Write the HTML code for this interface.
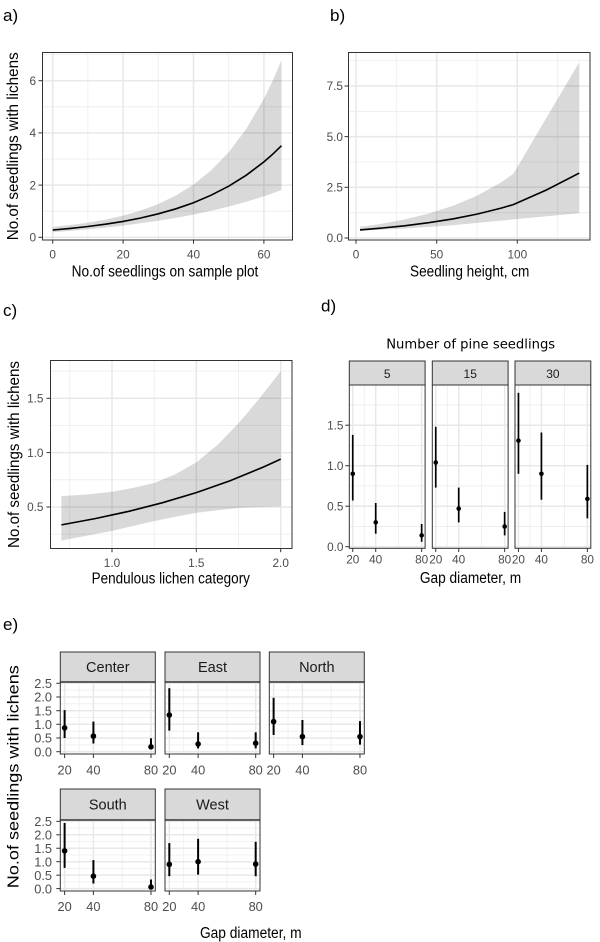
<!DOCTYPE html>
<html><head><meta charset="utf-8"><style>
html,body{margin:0;padding:0;background:#fff;}
svg{display:block;}
text{font-family:"Liberation Sans",Arial,sans-serif;}
.tk{font-size:11.8px;fill:#4d4d4d;}
.tke{font-size:12.8px;fill:#4d4d4d;}
.ttl{font-size:15.5px;fill:#000;}
.lab{font-size:17px;fill:#000;}
.gM{stroke:#e8e8e8;stroke-width:1.5;}
.gm{stroke:#ececec;stroke-width:0.8;}
.tick{stroke:#333;stroke-width:1;}
</style></head><body>
<svg width="600" height="942" viewBox="0 0 600 942" xmlns="http://www.w3.org/2000/svg">
<rect width="600" height="942" fill="#fff"/>

<!-- ===== Panel a ===== -->
<text class="lab" x="3" y="21">a)</text>
<rect x="42.5" y="52.5" width="250" height="187.5" fill="#fff"/>
<g class="gm">
<line x1="87.9" y1="52.5" x2="87.9" y2="240"/><line x1="158.3" y1="52.5" x2="158.3" y2="240"/><line x1="228.7" y1="52.5" x2="228.7" y2="240"/>
<line x1="42.5" y1="211.2" x2="292.5" y2="211.2"/><line x1="42.5" y1="159" x2="292.5" y2="159"/><line x1="42.5" y1="106.8" x2="292.5" y2="106.8"/><line x1="42.5" y1="54.6" x2="292.5" y2="54.6"/>
</g>
<g class="gM">
<line x1="52.7" y1="52.5" x2="52.7" y2="240"/><line x1="123.1" y1="52.5" x2="123.1" y2="240"/><line x1="193.5" y1="52.5" x2="193.5" y2="240"/><line x1="263.9" y1="52.5" x2="263.9" y2="240"/>
<line x1="42.5" y1="237.3" x2="292.5" y2="237.3"/><line x1="42.5" y1="185.1" x2="292.5" y2="185.1"/><line x1="42.5" y1="132.9" x2="292.5" y2="132.9"/><line x1="42.5" y1="80.7" x2="292.5" y2="80.7"/>
</g>
<path d="M52.7,226.9 L70.3,225 L87.9,222.6 L105.5,219.6 L123.1,215.6 L140.7,210.6 L158.3,204 L175.9,195.5 L193.5,184.5 L211.1,170.4 L228.7,152.2 L246.3,128.8 L263.9,98.7 L272.7,80.7 L281.5,60.1 L281.5,190 L272.7,193.2 L263.9,196.3 L246.3,201.8 L228.7,206.6 L211.1,210.8 L193.5,214.6 L175.9,217.9 L158.3,220.8 L140.7,223.3 L123.1,225.6 L105.5,227.6 L87.9,229.4 L70.3,230.9 L52.7,232.2 Z" fill="#000" fill-opacity="0.15"/>
<polyline points="52.7,230 70.3,228.4 87.9,226.5 105.5,224.2 123.1,221.4 140.7,218 158.3,213.8 175.9,208.8 193.5,202.7 211.1,195.2 228.7,186.2 246.3,175.2 263.9,161.9 272.7,154.2 281.5,145.7" fill="none" stroke="#000" stroke-width="1.6"/>
<rect x="42.5" y="52.5" width="250" height="187.5" fill="none" stroke="#333" stroke-width="1"/>
<g class="tick">
<line x1="38.5" y1="237.3" x2="42.5" y2="237.3"/><line x1="38.5" y1="185.1" x2="42.5" y2="185.1"/><line x1="38.5" y1="132.9" x2="42.5" y2="132.9"/><line x1="38.5" y1="80.7" x2="42.5" y2="80.7"/>
<line x1="52.7" y1="240" x2="52.7" y2="243.7"/><line x1="123.1" y1="240" x2="123.1" y2="243.7"/><line x1="193.5" y1="240" x2="193.5" y2="243.7"/><line x1="263.9" y1="240" x2="263.9" y2="243.7"/>
</g>
<g class="tk" text-anchor="end">
<text x="36" y="241.5">0</text><text x="36" y="189.3">2</text><text x="36" y="137.1">4</text><text x="36" y="84.9">6</text>
</g>
<g class="tk" text-anchor="middle">
<text x="52.7" y="258.5">0</text><text x="123.1" y="258.5">20</text><text x="193.5" y="258.5">40</text><text x="263.9" y="258.5">60</text>
</g>
<text class="ttl" x="165" y="276.5" text-anchor="middle" textLength="186.7" lengthAdjust="spacingAndGlyphs">No.of seedlings on sample plot</text>
<text class="ttl" x="18" y="146.3" text-anchor="middle" transform="rotate(-90 18 146.3)" textLength="188" lengthAdjust="spacingAndGlyphs">No.of seedlings with lichens</text>

<!-- ===== Panel b ===== -->
<text class="lab" x="330" y="21">b)</text>
<rect x="348.5" y="52.5" width="241.5" height="187.5" fill="#fff"/>
<g class="gm">
<line x1="396.3" y1="52.5" x2="396.3" y2="240"/><line x1="477" y1="52.5" x2="477" y2="240"/><line x1="557.7" y1="52.5" x2="557.7" y2="240"/>
<line x1="348.5" y1="212.7" x2="590" y2="212.7"/><line x1="348.5" y1="162" x2="590" y2="162"/><line x1="348.5" y1="111.3" x2="590" y2="111.3"/><line x1="348.5" y1="60.6" x2="590" y2="60.6"/>
</g>
<g class="gM">
<line x1="356" y1="52.5" x2="356" y2="240"/><line x1="436.7" y1="52.5" x2="436.7" y2="240"/><line x1="517.3" y1="52.5" x2="517.3" y2="240"/>
<line x1="348.5" y1="238" x2="590" y2="238"/><line x1="348.5" y1="187.3" x2="590" y2="187.3"/><line x1="348.5" y1="136.65" x2="590" y2="136.65"/><line x1="348.5" y1="86" x2="590" y2="86"/>
</g>
<path d="M360,226.9 L380.2,224 L404.4,219.5 L428.6,213.6 L452.8,205.9 L477,195.7 L501.2,182.2 L513.3,173.9 L579.3,62.1 L579.3,213.3 L513.3,219.4 L452.8,225.3 L404.4,228.6 L360,230.9 Z" fill="#000" fill-opacity="0.15"/>
<polyline points="360,229.9 380.2,228.2 404.4,225.8 428.6,222.7 452.8,218.9 477,214.1 501.2,208.1 513.3,204.6 546.4,190 579.3,173.1" fill="none" stroke="#000" stroke-width="1.6"/>
<rect x="348.5" y="52.5" width="241.5" height="187.5" fill="none" stroke="#333" stroke-width="1"/>
<g class="tick">
<line x1="344.5" y1="238" x2="348.5" y2="238"/><line x1="344.5" y1="187.3" x2="348.5" y2="187.3"/><line x1="344.5" y1="136.65" x2="348.5" y2="136.65"/><line x1="344.5" y1="86" x2="348.5" y2="86"/>
<line x1="356" y1="240" x2="356" y2="243.7"/><line x1="436.7" y1="240" x2="436.7" y2="243.7"/><line x1="517.3" y1="240" x2="517.3" y2="243.7"/>
</g>
<g class="tk" text-anchor="end">
<text x="343" y="242.2">0.0</text><text x="343" y="191.5">2.5</text><text x="343" y="140.9">5.0</text><text x="343" y="90.2">7.5</text>
</g>
<g class="tk" text-anchor="middle">
<text x="356" y="258.5">0</text><text x="436.7" y="258.5">50</text><text x="517.3" y="258.5">100</text>
</g>
<text class="ttl" x="469.7" y="276.5" text-anchor="middle" textLength="119.3" lengthAdjust="spacingAndGlyphs">Seedling height, cm</text>

<!-- ===== Panel c ===== -->
<text class="lab" x="3" y="316">c)</text>
<rect x="50.5" y="360.5" width="241.5" height="188" fill="#fff"/>
<g class="gm">
<line x1="69.8" y1="360.5" x2="69.8" y2="548.5"/><line x1="154.2" y1="360.5" x2="154.2" y2="548.5"/><line x1="238.5" y1="360.5" x2="238.5" y2="548.5"/>
<line x1="50.5" y1="534.1" x2="292" y2="534.1"/><line x1="50.5" y1="479.8" x2="292" y2="479.8"/><line x1="50.5" y1="425.4" x2="292" y2="425.4"/><line x1="50.5" y1="371.1" x2="292" y2="371.1"/>
</g>
<g class="gM">
<line x1="112" y1="360.5" x2="112" y2="548.5"/><line x1="196.3" y1="360.5" x2="196.3" y2="548.5"/><line x1="280.7" y1="360.5" x2="280.7" y2="548.5"/>
<line x1="50.5" y1="507" x2="292" y2="507"/><line x1="50.5" y1="452.6" x2="292" y2="452.6"/><line x1="50.5" y1="398.3" x2="292" y2="398.3"/>
</g>
<path d="M61.4,496.1 L86.7,494.5 L112,491.7 L133.1,487.9 L154.2,483 L175.3,474.3 L196.3,462.4 L217.4,445 L238.5,423.3 L259.6,398.3 L280.7,371.1 L280.7,506.4 L259.6,506.95 L238.5,508 L217.4,510.2 L196.3,512.9 L175.3,516.7 L154.2,521.1 L133.1,526 L112,530.9 L86.7,535.8 L61.4,540.6 Z" fill="#000" fill-opacity="0.15"/>
<polyline points="61.4,524.9 95.1,518.6 128.9,511.3 162.6,502.7 196.3,492.6 230.1,480.7 263.8,466.9 280.7,459.1" fill="none" stroke="#000" stroke-width="1.6"/>
<rect x="50.5" y="360.5" width="241.5" height="188" fill="none" stroke="#333" stroke-width="1"/>
<g class="tick">
<line x1="46.5" y1="507" x2="50.5" y2="507"/><line x1="46.5" y1="452.6" x2="50.5" y2="452.6"/><line x1="46.5" y1="398.3" x2="50.5" y2="398.3"/>
<line x1="112" y1="548.5" x2="112" y2="552.2"/><line x1="196.3" y1="548.5" x2="196.3" y2="552.2"/><line x1="280.7" y1="548.5" x2="280.7" y2="552.2"/>
</g>
<g class="tk" text-anchor="end">
<text x="43.5" y="511.2">0.5</text><text x="43.5" y="456.8">1.0</text><text x="43.5" y="402.5">1.5</text>
</g>
<g class="tk" text-anchor="middle">
<text x="112" y="567">1.0</text><text x="196.3" y="567">1.5</text><text x="280.7" y="567">2.0</text>
</g>
<text class="ttl" x="170.8" y="583.3" text-anchor="middle" textLength="158.3" lengthAdjust="spacingAndGlyphs">Pendulous lichen category</text>
<text class="ttl" x="19" y="454.5" text-anchor="middle" transform="rotate(-90 19 454.5)" textLength="187" lengthAdjust="spacingAndGlyphs">No.of seedlings with lichens</text>

<!-- ===== Panel d ===== -->
<text class="lab" x="321" y="311.5">d)</text>
<text x="470.7" y="348.3" text-anchor="middle" style="font-family:'DejaVu Sans',sans-serif;font-size:13.5px;fill:#000;" textLength="169" lengthAdjust="spacingAndGlyphs">Number of pine seedlings</text>

<defs>
<g id="dfacet">
<rect x="0" y="385" width="75.8" height="163.3" fill="#fff"/>
<g class="gm">
<line x1="14.93" y1="385" x2="14.93" y2="548.3"/><line x1="49.39" y1="385" x2="49.39" y2="548.3"/>
<line x1="0" y1="526.45" x2="75.8" y2="526.45"/><line x1="0" y1="485.95" x2="75.8" y2="485.95"/><line x1="0" y1="445.45" x2="75.8" y2="445.45"/><line x1="0" y1="404.95" x2="75.8" y2="404.95"/>
</g>
<g class="gM">
<line x1="3.45" y1="385" x2="3.45" y2="548.3"/><line x1="26.42" y1="385" x2="26.42" y2="548.3"/><line x1="72.36" y1="385" x2="72.36" y2="548.3"/>
<line x1="0" y1="546.7" x2="75.8" y2="546.7"/><line x1="0" y1="506.2" x2="75.8" y2="506.2"/><line x1="0" y1="465.7" x2="75.8" y2="465.7"/><line x1="0" y1="425.2" x2="75.8" y2="425.2"/>
</g>
</g>
<g id="dframe">
<rect x="0" y="385" width="75.8" height="163.3" fill="none" stroke="#333" stroke-width="1"/>
<rect x="0" y="361" width="75.8" height="24" fill="#d9d9d9" stroke="#333" stroke-width="1"/>
<g class="tick">
<line x1="3.45" y1="548.3" x2="3.45" y2="552"/><line x1="26.42" y1="548.3" x2="26.42" y2="552"/><line x1="72.36" y1="548.3" x2="72.36" y2="552"/>
</g>
</g>
</defs>

<g transform="translate(349.3,0)">
<use href="#dfacet"/>
<g stroke="#000" stroke-width="1.7">
<line x1="3.45" y1="500.5" x2="3.45" y2="434.9"/><line x1="26.42" y1="533.7" x2="26.42" y2="503"/><line x1="72.36" y1="541.8" x2="72.36" y2="524"/>
</g>
<g fill="#000"><circle cx="3.45" cy="473.8" r="2.3"/><circle cx="26.42" cy="522.4" r="2.3"/><circle cx="72.36" cy="535.4" r="2.3"/></g>
<use href="#dframe"/>
<text x="37.9" y="377.8" text-anchor="middle" style="font-size:12px;fill:#1a1a1a;">5</text>
</g>
<g transform="translate(432.3,0)">
<use href="#dfacet"/>
<g stroke="#000" stroke-width="1.7">
<line x1="3.45" y1="487.6" x2="3.45" y2="426.8"/><line x1="26.42" y1="522.4" x2="26.42" y2="487.6"/><line x1="72.36" y1="535.4" x2="72.36" y2="511.9"/>
</g>
<g fill="#000"><circle cx="3.45" cy="462.5" r="2.3"/><circle cx="26.42" cy="508.6" r="2.3"/><circle cx="72.36" cy="526.45" r="2.3"/></g>
<use href="#dframe"/>
<text x="37.9" y="377.8" text-anchor="middle" style="font-size:12px;fill:#1a1a1a;">15</text>
</g>
<g transform="translate(515,0)">
<use href="#dfacet"/>
<g stroke="#000" stroke-width="1.7">
<line x1="3.45" y1="473.8" x2="3.45" y2="392.8"/><line x1="26.42" y1="499.7" x2="26.42" y2="432.5"/><line x1="72.36" y1="518.35" x2="72.36" y2="464.9"/>
</g>
<g fill="#000"><circle cx="3.45" cy="440.6" r="2.3"/><circle cx="26.42" cy="473.8" r="2.3"/><circle cx="72.36" cy="498.9" r="2.3"/></g>
<use href="#dframe"/>
<text x="37.9" y="377.8" text-anchor="middle" style="font-size:12px;fill:#1a1a1a;">30</text>
</g>
<g class="tick">
<line x1="345.3" y1="546.7" x2="349.3" y2="546.7"/><line x1="345.3" y1="506.2" x2="349.3" y2="506.2"/><line x1="345.3" y1="465.7" x2="349.3" y2="465.7"/><line x1="345.3" y1="425.2" x2="349.3" y2="425.2"/>
</g>
<g class="tk" text-anchor="end">
<text x="343.5" y="550.9">0.0</text><text x="343.5" y="510.4">0.5</text><text x="343.5" y="469.9">1.0</text><text x="343.5" y="429.4">1.5</text>
</g>
<g class="tk" text-anchor="middle">
<text x="352.75" y="563.5">20</text><text x="375.7" y="563.5">40</text><text x="421.7" y="563.5">80</text>
<text x="435.75" y="563.5">20</text><text x="458.7" y="563.5">40</text><text x="504.7" y="563.5">80</text>
<text x="518.45" y="563.5">20</text><text x="541.4" y="563.5">40</text><text x="587.4" y="563.5">80</text>
</g>
<text class="ttl" x="470.5" y="583" text-anchor="middle" textLength="101.3" lengthAdjust="spacingAndGlyphs">Gap diameter, m</text>

<!-- ===== Panel e ===== -->
<text class="lab" x="3" y="630">e)</text>
<defs>
<g id="e1bg">
<rect x="0" y="682" width="95" height="72" fill="#fff"/>
<g class="gm">
<line x1="18.71" y1="682" x2="18.71" y2="754"/><line x1="61.89" y1="682" x2="61.89" y2="754"/>
<line x1="0" y1="744.86" x2="95" y2="744.86"/><line x1="0" y1="731.2" x2="95" y2="731.2"/><line x1="0" y1="717.5" x2="95" y2="717.5"/><line x1="0" y1="703.8" x2="95" y2="703.8"/><line x1="0" y1="690.1" x2="95" y2="690.1"/>
</g>
<g class="gM">
<line x1="4.32" y1="682" x2="4.32" y2="754"/><line x1="33.11" y1="682" x2="33.11" y2="754"/><line x1="90.68" y1="682" x2="90.68" y2="754"/>
<line x1="0" y1="751.7" x2="95" y2="751.7"/><line x1="0" y1="738" x2="95" y2="738"/><line x1="0" y1="724.3" x2="95" y2="724.3"/><line x1="0" y1="710.7" x2="95" y2="710.7"/><line x1="0" y1="697" x2="95" y2="697"/><line x1="0" y1="683.3" x2="95" y2="683.3"/>
</g>
</g>
<g id="e1fr">
<rect x="0" y="682" width="95" height="72" fill="none" stroke="#333" stroke-width="1"/>
<rect x="0" y="652" width="95" height="30" fill="#d9d9d9" stroke="#333" stroke-width="1"/>
<line x1="0" y1="682" x2="95" y2="682" stroke="#333" stroke-width="1.6"/>
<g class="tick"><line x1="4.32" y1="754" x2="4.32" y2="758"/><line x1="33.11" y1="754" x2="33.11" y2="758"/><line x1="90.68" y1="754" x2="90.68" y2="758"/></g>
<g class="tke" text-anchor="middle"><text x="4.32" y="774.5">20</text><text x="33.11" y="774.5">40</text><text x="90.68" y="774.5">80</text></g>
</g>
<g id="e2bg">
<rect x="0" y="820" width="95" height="71" fill="#fff"/>
<g class="gm">
<line x1="18.71" y1="820" x2="18.71" y2="891"/><line x1="61.89" y1="820" x2="61.89" y2="891"/>
<line x1="0" y1="881.9" x2="95" y2="881.9"/><line x1="0" y1="868.4" x2="95" y2="868.4"/><line x1="0" y1="855" x2="95" y2="855"/><line x1="0" y1="841.5" x2="95" y2="841.5"/><line x1="0" y1="828.1" x2="95" y2="828.1"/>
</g>
<g class="gM">
<line x1="4.32" y1="820" x2="4.32" y2="891"/><line x1="33.11" y1="820" x2="33.11" y2="891"/><line x1="90.68" y1="820" x2="90.68" y2="891"/>
<line x1="0" y1="888.6" x2="95" y2="888.6"/><line x1="0" y1="875.15" x2="95" y2="875.15"/><line x1="0" y1="861.7" x2="95" y2="861.7"/><line x1="0" y1="848.25" x2="95" y2="848.25"/><line x1="0" y1="834.8" x2="95" y2="834.8"/><line x1="0" y1="821.35" x2="95" y2="821.35"/>
</g>
</g>
<g id="e2fr">
<rect x="0" y="820" width="95" height="71" fill="none" stroke="#333" stroke-width="1"/>
<rect x="0" y="789" width="95" height="31" fill="#d9d9d9" stroke="#333" stroke-width="1"/>
<line x1="0" y1="820" x2="95" y2="820" stroke="#333" stroke-width="1.6"/>
<g class="tick"><line x1="4.32" y1="891" x2="4.32" y2="895"/><line x1="33.11" y1="891" x2="33.11" y2="895"/><line x1="90.68" y1="891" x2="90.68" y2="895"/></g>
<g class="tke" text-anchor="middle"><text x="4.32" y="911">20</text><text x="33.11" y="911">40</text><text x="90.68" y="911">80</text></g>
</g>
</defs>

<!-- Center -->
<g transform="translate(60.3,0)">
<use href="#e1bg"/>
<g stroke="#000" stroke-width="2">
<line x1="4.32" y1="738" x2="4.32" y2="710.1"/><line x1="33.11" y1="743.5" x2="33.11" y2="721.6"/><line x1="90.68" y1="749.2" x2="90.68" y2="738.3"/>
</g>
<g fill="#000"><circle cx="4.32" cy="727.9" r="2.8"/><circle cx="33.11" cy="736.1" r="2.8"/><circle cx="90.68" cy="746.8" r="2.8"/></g>
<use href="#e1fr"/>
<text x="47.5" y="672" text-anchor="middle" style="font-size:14.5px;fill:#1a1a1a;">Center</text>
</g>
<!-- East -->
<g transform="translate(165,0)">
<use href="#e1bg"/>
<g stroke="#000" stroke-width="2">
<line x1="4.32" y1="730.6" x2="4.32" y2="688.2"/><line x1="33.11" y1="748.4" x2="33.11" y2="732.3"/><line x1="90.68" y1="748.4" x2="90.68" y2="732.3"/>
</g>
<g fill="#000"><circle cx="4.32" cy="715" r="2.8"/><circle cx="33.11" cy="744" r="2.8"/><circle cx="90.68" cy="743.2" r="2.8"/></g>
<use href="#e1fr"/>
<text x="47.5" y="672" text-anchor="middle" style="font-size:14.5px;fill:#1a1a1a;">East</text>
</g>
<!-- North -->
<g transform="translate(269.3,0)">
<use href="#e1bg"/>
<g stroke="#000" stroke-width="2">
<line x1="4.32" y1="735" x2="4.32" y2="697.8"/><line x1="33.11" y1="745.1" x2="33.11" y2="720"/><line x1="90.68" y1="744.6" x2="90.68" y2="721.1"/>
</g>
<g fill="#000"><circle cx="4.32" cy="721.6" r="2.8"/><circle cx="33.11" cy="736.65" r="2.8"/><circle cx="90.68" cy="736.65" r="2.8"/></g>
<use href="#e1fr"/>
<text x="47.5" y="672" text-anchor="middle" style="font-size:14.5px;fill:#1a1a1a;">North</text>
</g>
<!-- South -->
<g transform="translate(60.3,0)">
<use href="#e2bg"/>
<g stroke="#000" stroke-width="2">
<line x1="4.32" y1="867.9" x2="4.32" y2="823"/><line x1="33.11" y1="883.5" x2="33.11" y2="860.1"/><line x1="90.68" y1="888.6" x2="90.68" y2="879.5"/>
</g>
<g fill="#000"><circle cx="4.32" cy="850.9" r="2.8"/><circle cx="33.11" cy="876.2" r="2.8"/><circle cx="90.68" cy="887" r="2.8"/></g>
<use href="#e2fr"/>
<text x="47.5" y="809.7" text-anchor="middle" style="font-size:14.5px;fill:#1a1a1a;">South</text>
</g>
<!-- West -->
<g transform="translate(165,0)">
<use href="#e2bg"/>
<g stroke="#000" stroke-width="2">
<line x1="4.32" y1="876.2" x2="4.32" y2="843.1"/><line x1="33.11" y1="874.6" x2="33.11" y2="838.8"/><line x1="90.68" y1="876.2" x2="90.68" y2="841.8"/>
</g>
<g fill="#000"><circle cx="4.32" cy="864.4" r="2.8"/><circle cx="33.11" cy="861.7" r="2.8"/><circle cx="90.68" cy="864.1" r="2.8"/></g>
<use href="#e2fr"/>
<text x="47.5" y="809.7" text-anchor="middle" style="font-size:14.5px;fill:#1a1a1a;">West</text>
</g>

<g class="tick">
<line x1="56.3" y1="751.7" x2="60.3" y2="751.7"/><line x1="56.3" y1="738" x2="60.3" y2="738"/><line x1="56.3" y1="724.3" x2="60.3" y2="724.3"/><line x1="56.3" y1="710.7" x2="60.3" y2="710.7"/><line x1="56.3" y1="697" x2="60.3" y2="697"/><line x1="56.3" y1="683.3" x2="60.3" y2="683.3"/>
<line x1="56.3" y1="888.6" x2="60.3" y2="888.6"/><line x1="56.3" y1="875.15" x2="60.3" y2="875.15"/><line x1="56.3" y1="861.7" x2="60.3" y2="861.7"/><line x1="56.3" y1="848.25" x2="60.3" y2="848.25"/><line x1="56.3" y1="834.8" x2="60.3" y2="834.8"/><line x1="56.3" y1="821.35" x2="60.3" y2="821.35"/>
</g>
<g class="tke" text-anchor="end">
<text x="52" y="688">2.5</text><text x="52" y="701.7">2.0</text><text x="52" y="715.4">1.5</text><text x="52" y="729">1.0</text><text x="52" y="742.7">0.5</text><text x="52" y="756.4">0.0</text>
<text x="52" y="826.1">2.5</text><text x="52" y="839.5">2.0</text><text x="52" y="853">1.5</text><text x="52" y="866.4">1.0</text><text x="52" y="879.9">0.5</text><text x="52" y="893.3">0.0</text>
</g>
<text class="ttl" x="250.8" y="938" text-anchor="middle" textLength="101.7" lengthAdjust="spacingAndGlyphs">Gap diameter, m</text>
<text class="ttl" x="18.5" y="776.7" text-anchor="middle" transform="rotate(-90 18.5 776.7)" textLength="223" lengthAdjust="spacingAndGlyphs">No.of seedlings with lichens</text>
</svg>
</body></html>
